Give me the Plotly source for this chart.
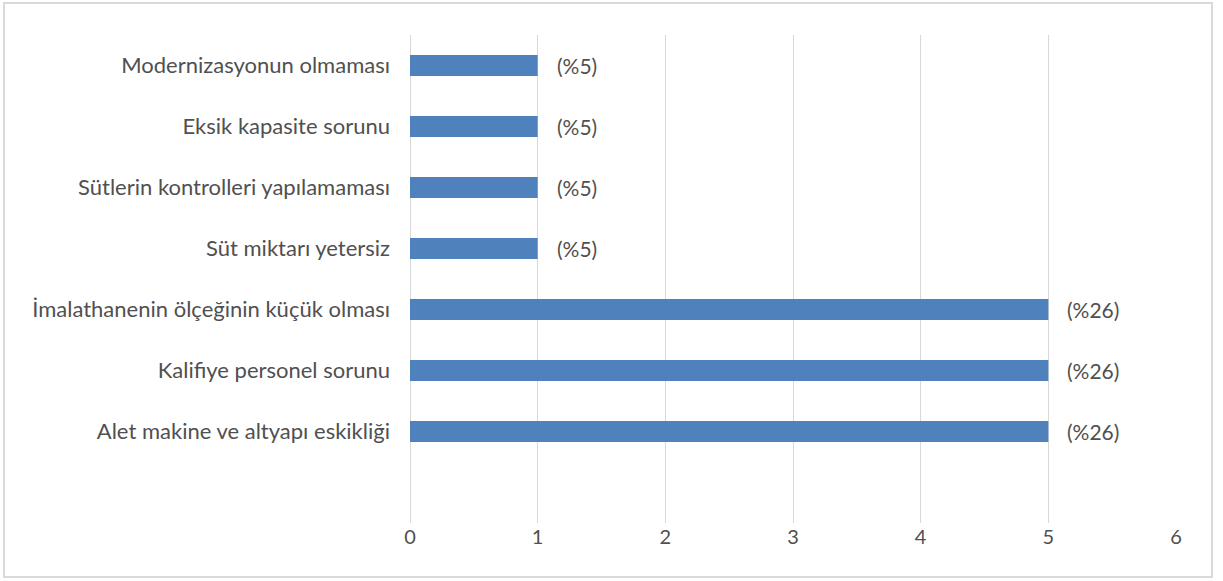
import plotly.graph_objects as go

# Problem categories (bottom to top) and their counts
categories = [
    "Alet makine ve altyapı eskikliği",
    "Kalifiye personel sorunu",
    "İmalathanenin ölçeğinin küçük olması",
    "Süt miktarı yetersiz",
    "Sütlerin kontrolleri yapılamaması",
    "Eksik kapasite sorunu",
    "Modernizasyonun olmaması",
]
counts = [5, 5, 5, 1, 1, 1, 1]
percent_labels = ["(%26)", "(%26)", "(%26)", "(%5)", "(%5)", "(%5)", "(%5)"]
x_ticks = [0, 1, 2, 3, 4, 5, 6]

W, H = 1223, 581
ML, MR, MT, MB = 410, 47, 35, 58
FONT = "Lato, 'Open Sans', sans-serif"
TEXT_COLOR = "#505050"

fig = go.Figure(
    go.Bar(
        x=counts,
        y=categories,
        orientation="h",
        marker=dict(color="#4F81BD", line=dict(width=0)),
        width=0.345,
        hoverinfo="x+y",
    )
)

for cat, val, lab in zip(categories, counts, percent_labels):
    fig.add_annotation(
        x=val, y=cat, text=lab, showarrow=False,
        xanchor="left", xshift=17,
        font=dict(family=FONT, size=21, color=TEXT_COLOR),
    )

# Outer chart border
pw = W - ML - MR
ph = H - MT - MB
fig.add_shape(
    type="rect", xref="paper", yref="paper",
    x0=(4 - ML) / pw, x1=(1212 - ML) / pw,
    y0=(H - MB - 577) / ph, y1=(H - MB - 3) / ph,
    line=dict(color="#d9d9d9", width=2), fillcolor="rgba(0,0,0,0)",
    layer="below",
)

fig.update_layout(
    width=W, height=H,
    margin=dict(l=ML, r=MR, t=MT, b=MB, pad=0),
    plot_bgcolor="white", paper_bgcolor="white",
    showlegend=False,
    font=dict(family=FONT, size=22, color=TEXT_COLOR),
    xaxis=dict(
        range=[0, 6], tickvals=x_ticks, showgrid=True,
        gridcolor="#d9d9d9", gridwidth=1,
        zeroline=True, zerolinecolor="#d9d9d9", zerolinewidth=1,
        showline=False, ticks="", ticklabelstandoff=0,
        tickfont=dict(family=FONT, size=20, color=TEXT_COLOR),
    ),
    yaxis=dict(
        type="category", categoryorder="array", categoryarray=categories,
        range=[-1.5, 6.5], showgrid=False, zeroline=False, showline=False,
        ticks="", ticklabelstandoff=19,
        tickfont=dict(family=FONT, size=22, color=TEXT_COLOR),
    ),
)

fig.write_html("out.html")
